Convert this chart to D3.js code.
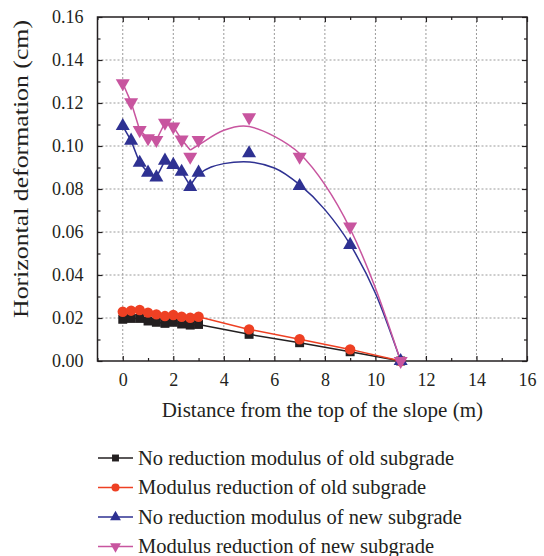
<!DOCTYPE html>
<html>
<head>
<meta charset="utf-8">
<script src="https://cdn.jsdelivr.net/npm/d3@7"></script>
<style>
  body { margin: 0; background: #fff; }
  text { font-family: "Liberation Serif", "Times New Roman", serif; fill: #231f20; }
</style>
</head>
<body>
<div id="chart"></div>
<script>
// Data
const distance = [0, 0.33, 0.67, 1, 1.33, 1.67, 2, 2.33, 2.67, 3, 5, 7, 9, 11];
const oldNoReduction = [0.0194, 0.0198, 0.0198, 0.0186, 0.0180, 0.0175, 0.0180, 0.0172, 0.0167, 0.0170, 0.0124, 0.0085, 0.0043, 0];
const oldReduction = [0.0229, 0.0234, 0.0237, 0.0225, 0.0217, 0.0209, 0.0214, 0.0206, 0.0201, 0.0206, 0.0147, 0.0101, 0.0054, 0];
const newNoReduction = [0.1093, 0.1025, 0.0922, 0.0876, 0.0854, 0.0932, 0.0912, 0.0880, 0.0810, 0.0876, 0.0966, 0.0814, 0.0540, 0];
const newReduction = [0.1292, 0.1203, 0.1074, 0.1036, 0.1028, 0.1108, 0.1090, 0.1030, 0.0950, 0.1028, 0.1133, 0.0950, 0.0625, 0];

// fitted curves for the new subgrade
const fitX = [2.67, 3, 4, 4.78, 6, 7, 8, 9, 10, 11];
const newNoReductionFit = [0.0815, 0.0868, 0.0918, 0.0927, 0.0898, 0.0820, 0.0704, 0.0542, 0.0315, 0];
const newReductionFit = [0.0981, 0.1005, 0.1073, 0.1093, 0.1045, 0.0965, 0.0820, 0.0615, 0.0340, 0];

const xTicks = [0, 2, 4, 6, 8, 10, 12, 14, 16];
const yTicks = [0, 0.02, 0.04, 0.06, 0.08, 0.10, 0.12, 0.14, 0.16];

const series = [
  { name: "No reduction modulus of old subgrade", values: oldNoReduction, color: "#231f20", symbol: d3.symbolSquare, size: 80, rot: 0, polyEnd: 13 },
  { name: "Modulus reduction of old subgrade", values: oldReduction, color: "#ee4023", symbol: d3.symbolCircle, size: 85, rot: 0, polyEnd: 13 },
  { name: "No reduction modulus of new subgrade", values: newNoReduction, color: "#2e3192", symbol: d3.symbolTriangle, size: 85, rot: 0, polyEnd: 7, fit: newNoReductionFit },
  { name: "Modulus reduction of new subgrade", values: newReduction, color: "#c8559f", symbol: d3.symbolTriangle, size: 85, rot: 180, polyEnd: 7, fit: newReductionFit }
];

const width = 544, height = 556;
const margin = { left: 97.5, right: 17, top: 17, bottom: 195 };
const iw = width - margin.left - margin.right;
const ih = height - margin.top - margin.bottom;

const svg = d3.select("#chart").append("svg")
  .attr("width", width)
  .attr("height", height);

const g = svg.append("g").attr("transform", `translate(${margin.left},${margin.top})`);

const x = d3.scaleLinear().domain([-1, 16]).range([0, iw]);
const y = d3.scaleLinear().domain([0, 0.16]).range([ih, 0]);

// grid
g.append("g").selectAll("line").data(xTicks.filter(t => t < 16)).join("line")
  .attr("x1", d => x(d)).attr("x2", d => x(d)).attr("y1", 0).attr("y2", ih)
  .attr("stroke", "#9a9a9a").attr("stroke-width", 1).attr("stroke-dasharray", "2,2");
g.append("g").selectAll("line").data(yTicks.filter(t => t > 0 && t < 0.16)).join("line")
  .attr("y1", d => y(d)).attr("y2", d => y(d)).attr("x1", 0).attr("x2", iw)
  .attr("stroke", "#9a9a9a").attr("stroke-width", 1).attr("stroke-dasharray", "2,2");

// axes with inward ticks
const xMinor = d3.range(-1, 17, 1).filter(v => v % 2 !== 0);
const yMinor = d3.range(1, 16, 2).map(v => v / 100);

function styleAxis(sel) {
  sel.select(".domain").remove();
  sel.selectAll(".tick line").attr("stroke", "#231f20").attr("stroke-width", 1.2);
  sel.selectAll("text").style("font-size", "18px").attr("fill", "#231f20");
}

g.append("g").attr("transform", `translate(0,${ih})`)
  .call(d3.axisBottom(x).tickValues(xTicks).tickSizeInner(-5).tickSizeOuter(0).tickPadding(12).tickFormat(d3.format("d")))
  .call(styleAxis);
g.append("g").attr("transform", `translate(0,${ih})`)
  .call(d3.axisBottom(x).tickValues(xMinor).tickSizeInner(-3).tickSizeOuter(0).tickFormat(""))
  .call(styleAxis);
g.append("g")
  .call(d3.axisTop(x).tickValues(xTicks).tickSizeInner(-5).tickSizeOuter(0).tickFormat(""))
  .call(styleAxis);
g.append("g")
  .call(d3.axisTop(x).tickValues(xMinor).tickSizeInner(-3).tickSizeOuter(0).tickFormat(""))
  .call(styleAxis);

g.append("g")
  .call(d3.axisLeft(y).tickValues(yTicks).tickSizeInner(-5).tickSizeOuter(0).tickPadding(14).tickFormat(d3.format(".2f")))
  .call(styleAxis);
g.append("g")
  .call(d3.axisLeft(y).tickValues(yMinor).tickSizeInner(-3).tickSizeOuter(0).tickFormat(""))
  .call(styleAxis);
g.append("g").attr("transform", `translate(${iw},0)`)
  .call(d3.axisRight(y).tickValues(yTicks).tickSizeInner(-5).tickSizeOuter(0).tickFormat(""))
  .call(styleAxis);
g.append("g").attr("transform", `translate(${iw},0)`)
  .call(d3.axisRight(y).tickValues(yMinor).tickSizeInner(-3).tickSizeOuter(0).tickFormat(""))
  .call(styleAxis);

// frame
g.append("rect").attr("width", iw).attr("height", ih)
  .attr("fill", "none").attr("stroke", "#231f20").attr("stroke-width", 1.5);

// lines
const line = d3.line().x(d => x(d[0])).y(d => y(d[1]));
const smooth = d3.line().x(d => x(d[0])).y(d => y(d[1])).curve(d3.curveMonotoneX);

series.forEach(s => {
  const pts = distance.map((d, i) => [d, s.values[i]]).slice(0, s.polyEnd + 1);
  if (s.fit) pts.push([fitX[0], s.fit[0]]);
  g.append("path").attr("d", line(pts))
    .attr("fill", "none").attr("stroke", s.color).attr("stroke-width", 1.5);
  if (s.fit) {
    g.append("path").attr("d", smooth(fitX.map((d, i) => [d, s.fit[i]])))
      .attr("fill", "none").attr("stroke", s.color).attr("stroke-width", 1.5);
  }
});

// markers
series.forEach(s => {
  const sym = d3.symbol().type(s.symbol).size(s.size);
  g.append("g").selectAll("path").data(distance.map((d, i) => [d, s.values[i]])).join("path")
    .attr("d", sym)
    .attr("transform", d => `translate(${x(d[0])},${y(d[1])}) rotate(${s.rot})`)
    .attr("fill", s.color);
});

// axis titles
svg.append("text")
  .attr("x", margin.left + x(7.9)).attr("y", 417)
  .attr("text-anchor", "middle").style("font-size", "21px")
  .text("Distance from the top of the slope (m)");

svg.append("text")
  .attr("transform", "translate(28,169) rotate(-90)")
  .attr("text-anchor", "middle").style("font-size", "21px")
  .attr("textLength", 298).attr("lengthAdjust", "spacingAndGlyphs")
  .text("Horizontal deformation (cm)");

// legend
const legend = svg.append("g").attr("transform", "translate(98,458)");
series.forEach((s, i) => {
  const row = legend.append("g").attr("transform", `translate(0,${i * 29.5})`);
  row.append("line").attr("x1", 0).attr("x2", 35).attr("y1", 0).attr("y2", 0)
    .attr("stroke", s.color).attr("stroke-width", 1.5);
  row.append("path").attr("d", d3.symbol().type(s.symbol).size(s.size * 0.6))
    .attr("transform", `translate(17.5,0) rotate(${s.rot})`).attr("fill", s.color);
  row.append("text").attr("x", 40).attr("y", 0).attr("dy", "0.33em")
    .style("font-size", "20.5px").text(s.name);
});
</script>
</body>
</html>
